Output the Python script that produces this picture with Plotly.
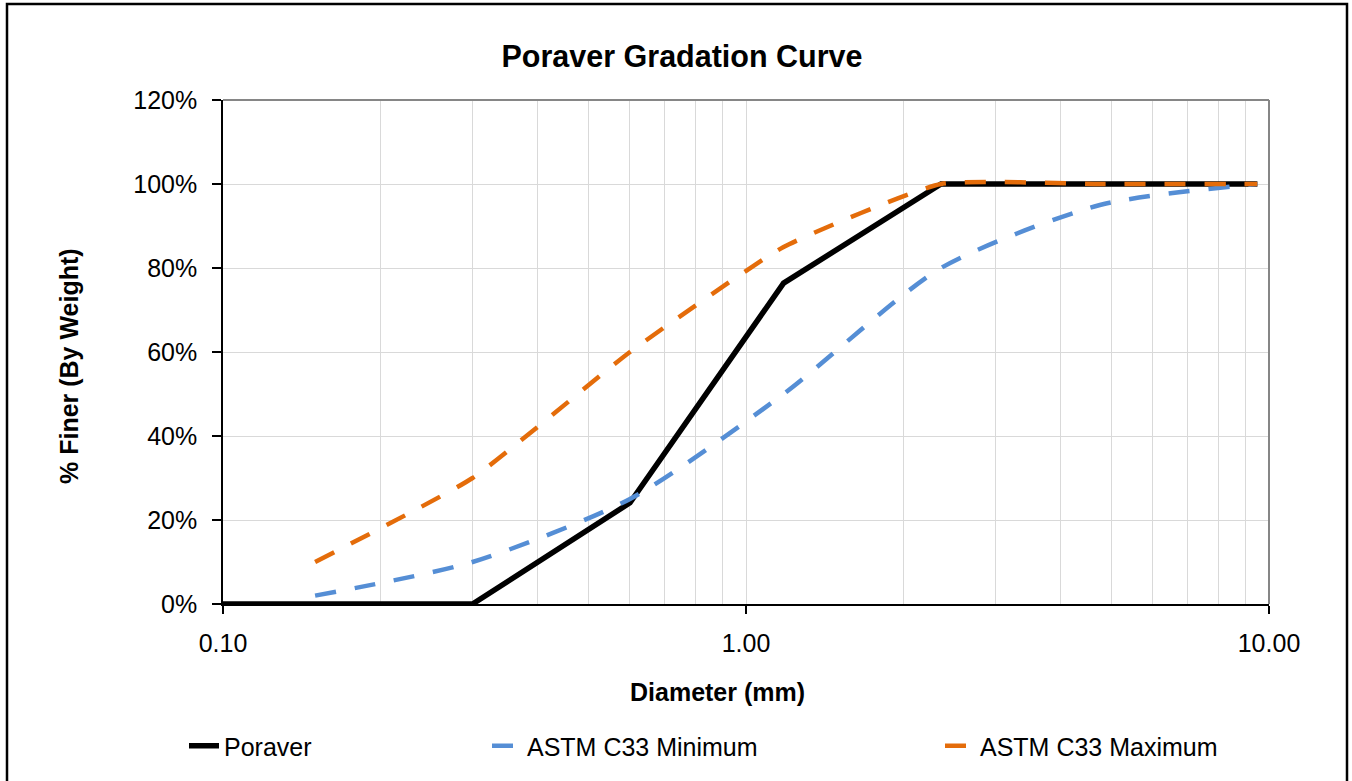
import plotly.graph_objects as go

# ---- data ----
poraver_sizes = [0.10, 0.15, 0.30, 0.60, 1.18, 2.36, 4.75, 9.50]
poraver_pct = [0, 0, 0, 24.1, 76.4, 100, 100, 100]

astm_sizes = [0.15, 0.30, 0.60, 1.18, 2.36, 4.75, 9.50]
astm_min = [2, 10, 25, 50, 80, 95, 100]
astm_max = [10, 30, 60, 85, 100, 100, 100]

x_tickvals = [0.1, 1, 10]
x_ticktext = ["0.10", "1.00", "10.00"]
x_minor = [0.2, 0.3, 0.4, 0.5, 0.6, 0.7, 0.8, 0.9, 2, 3, 4, 5, 6, 7, 8, 9]
y_tickvals = [0, 20, 40, 60, 80, 100, 120]
y_ticktext = ["0%", "20%", "40%", "60%", "80%", "100%", "120%"]

W, H = 1352, 781
L, R, T, B = 223, 83, 100, 177
PW, PH = W - L - R, H - T - B

def px_x(px):
    return (px - L) / PW

def px_y(py):
    return (H - B - py) / PH

FONT = "Liberation Sans, Arial, sans-serif"
BLUE = "#558ED5"
ORANGE = "#E46C0A"

fig = go.Figure()
fig.add_trace(go.Scatter(
    x=poraver_sizes, y=poraver_pct, name="Poraver", mode="lines",
    line=dict(color="black", width=5.5), cliponaxis=False, legend="legend"))
fig.add_trace(go.Scatter(
    x=astm_sizes, y=astm_min, name="ASTM C33 Minimum", mode="lines",
    line=dict(color=BLUE, width=4.5, dash="21px,19px", shape="spline", smoothing=0.7),
    cliponaxis=False, legend="legend2"))
fig.add_trace(go.Scatter(
    x=astm_sizes, y=astm_max, name="ASTM C33 Maximum", mode="lines",
    line=dict(color=ORANGE, width=4.5, dash="21px,19px", shape="spline", smoothing=0.45),
    cliponaxis=False, legend="legend3"))

legend_common = dict(orientation="h", yanchor="middle", xanchor="left",
                     font=dict(family=FONT, size=25, color="black"),
                     bgcolor="rgba(0,0,0,0)", y=px_y(746))

fig.update_layout(
    width=W, height=H,
    margin=dict(l=L, r=R, t=T, b=B, pad=0),
    paper_bgcolor="white", plot_bgcolor="white",
    showlegend=True,
    font=dict(family=FONT, size=25, color="black"),
    title=dict(text="<b>Poraver Gradation Curve</b>", font=dict(family=FONT, size=30.5, color="black"),
               xref="container", yref="container", x=682 / W, y=1 - 56 / H,
               xanchor="center", yanchor="middle"),
    xaxis=dict(type="log", range=[-1, 1], tickvals=x_tickvals, ticktext=x_ticktext,
               showgrid=True, gridcolor="#D9D9D9", gridwidth=1,
               minor=dict(tickvals=x_minor, showgrid=True, gridcolor="#D9D9D9", gridwidth=1, ticks=""),
               showline=True, linecolor="black", linewidth=1.5,
               ticks="outside", ticklen=8, tickcolor="black", tickwidth=1.5,
               ticklabelstandoff=8, tickfont=dict(family=FONT, size=25, color="black"),
               zeroline=False),
    yaxis=dict(range=[0, 120], tickvals=y_tickvals, ticktext=y_ticktext,
               showgrid=True, gridcolor="#D9D9D9", gridwidth=1,
               showline=True, linecolor="black", linewidth=1.5,
               ticks="outside", ticklen=9, tickcolor="black", tickwidth=1.5,
               ticklabelstandoff=10, tickfont=dict(family=FONT, size=25, color="black"),
               zeroline=False),
    legend=dict(x=px_x(184), **legend_common),
    legend2=dict(x=px_x(487), **legend_common),
    legend3=dict(x=px_x(940), **legend_common),
    annotations=[
        dict(text="<b>Diameter (mm)</b>", xref="paper", yref="paper",
             x=px_x(717), y=px_y(692), xanchor="center", yanchor="middle",
             showarrow=False, font=dict(family=FONT, size=25, color="black")),
        dict(text="<b>% Finer (By Weight)</b>", xref="paper", yref="paper",
             x=px_x(69), y=px_y(366), xanchor="center", yanchor="middle", textangle=-90,
             showarrow=False, font=dict(family=FONT, size=25, color="black")),
    ],
    shapes=[
        # gray top and right plot border
        dict(type="line", xref="paper", yref="paper", x0=0, x1=1, y0=1, y1=1,
             line=dict(color="#868686", width=2), layer="above"),
        dict(type="line", xref="paper", yref="paper", x0=1, x1=1, y0=0, y1=1,
             line=dict(color="#868686", width=2), layer="above"),
        # outer chart border
        dict(type="rect", xref="paper", yref="paper",
             x0=px_x(7), x1=px_x(1347), y0=px_y(790), y1=px_y(4),
             line=dict(color="black", width=2.5), layer="below"),
    ],
)

fig.write_html("out.html", config={"displayModeBar": False},
               post_script="document.body.style.margin='0';document.body.style.overflow='hidden';")
